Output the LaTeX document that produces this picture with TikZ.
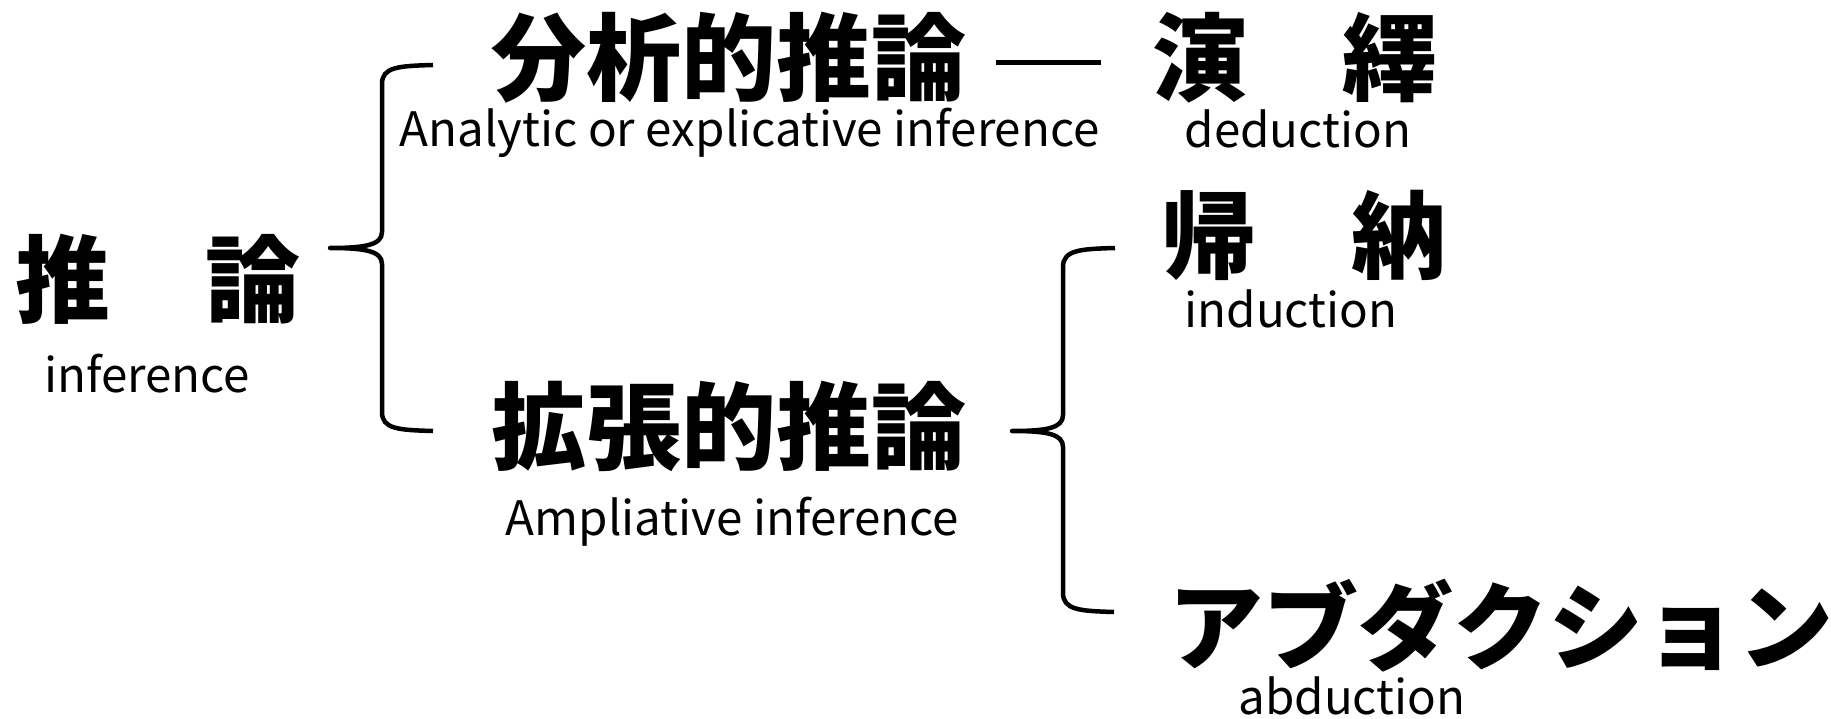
\documentclass[tikz,border=0pt]{standalone}
\usepackage{fontspec}
\newfontfamily\cjk{Noto Sans CJK JP}
\begin{document}
\begin{tikzpicture}[x=1pt,y={(0pt,-1pt)},
  big/.style={font=\cjk\bfseries\fontsize{95}{100}\selectfont, inner sep=0pt, anchor=base},
  small/.style={font=\cjk\fontsize{47.5}{55}\selectfont, inner sep=0pt, anchor=base},
  brace/.style={line width=4.5pt, line join=round, line cap=butt},
  dashline/.style={line width=5pt}]
\useasboundingbox (0,0) rectangle (1831,719);
% main terms
\node[big] (inf) at (157.5,316) {推　論};
\node[small] (infE) at (147,392) {inference};
\node[big] (ana) at (729,94) {分析的推論};
\node[small] (anaE) at (749.5,147) {Analytic or explicative inference};
\node[big] (amp) at (729,462) {拡張的推論};
\node[small] (ampE) at (732.5,535) {Ampliative inference};
\node[big] (ded) at (1295,93.5) {演　繹};
\node[small] (dedE) at (1298,148) {deduction};
\node[big] (ind) at (1303.5,272) {帰　納};
\node[small] (indE) at (1291,327) {induction};
\node[big] (abd) at (1501,662) {アブダクション};
\node[small] (abdE) at (1352,714) {abduction};
% dash between analytic and deduction
\coordinate (d1) at ([xshift=29pt,yshift=31pt]ana.base east);
\coordinate (d2) at ([xshift=-51pt]ded.west);
\draw[dashline] (d1) -- (d1 -| d2);
% brace 1
\coordinate (b1tip) at (330,248);
\draw[brace] (433,65) .. controls (398,66) and (382,67) .. (382,84) -- (382,232)
  .. controls (382,245) and (365,248) .. (b1tip)
  .. controls (365,248) and (382,251) .. (382,264) -- (382,412)
  .. controls (382,429) and (398,430) .. (433,431);
% brace 2
\coordinate (b2tip) at (1012,431);
\draw[brace] (1115,248) .. controls (1080,249) and (1063,250) .. (1063,267) -- (1063,415)
  .. controls (1063,428) and (1047,431) .. (b2tip)
  .. controls (1047,431) and (1063,434) .. (1063,447) -- (1063,593)
  .. controls (1063,610) and (1080,611) .. (1114,612);
\end{tikzpicture}
\end{document}
